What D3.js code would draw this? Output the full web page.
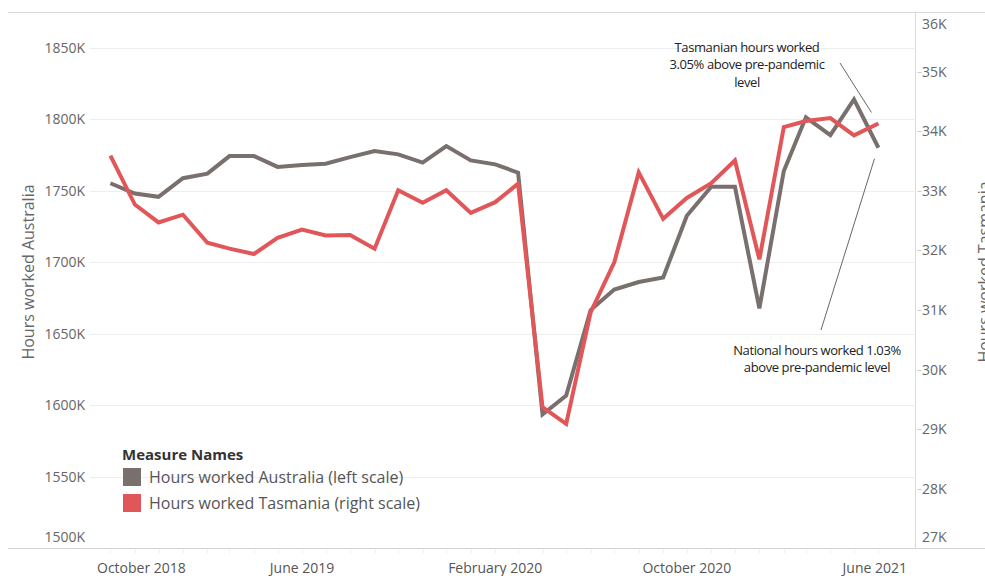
<!DOCTYPE html>
<html>
<head>
<meta charset="utf-8">
<script src="https://cdn.jsdelivr.net/npm/d3@7"></script>
<style>
body { margin: 0; background: #fff; }
text { font-family: "Open Sans", sans-serif; }
</style>
</head>
<body>
<div id="chart"></div>
<script>
// monthly series, Oct 2018 - Jun 2021
var months = ["2018-10","2018-11","2018-12",
  "2019-01","2019-02","2019-03","2019-04","2019-05","2019-06","2019-07","2019-08","2019-09","2019-10","2019-11","2019-12",
  "2020-01","2020-02","2020-03","2020-04","2020-05","2020-06","2020-07","2020-08","2020-09","2020-10","2020-11","2020-12",
  "2021-01","2021-02","2021-03","2021-04","2021-05","2021-06"];
// thousands of hours (left scale)
var australia = [1755.3, 1748.1, 1745.8, 1758.8, 1762.0, 1774.3, 1774.3, 1766.7, 1768.1, 1769.0, 1773.6,
  1777.8, 1775.5, 1769.7, 1781.3, 1771.3, 1768.5, 1762.7, 1593.7, 1606.9, 1666.7, 1681.0,
  1686.3, 1689.4, 1732.6, 1752.8, 1752.8, 1667.8, 1763.9, 1801.4, 1788.9, 1813.9, 1780.1];
// thousands of hours (right scale)
var tasmania = [33.59, 32.77, 32.47, 32.60, 32.13, 32.03, 31.94, 32.21, 32.35, 32.25, 32.26,
  32.03, 33.01, 32.80, 33.01, 32.63, 32.81, 33.12, 29.37, 29.09, 30.96, 31.80,
  33.31, 32.53, 32.88, 33.13, 33.51, 31.85, 34.07, 34.17, 34.22, 33.93, 34.13];

var leftTicks = [1500, 1550, 1600, 1650, 1700, 1750, 1800, 1850];
var rightTicks = [27, 28, 29, 30, 31, 32, 33, 34, 35, 36];
var xTickMonths = ["2018-10", "2019-06", "2020-02", "2020-10", "2021-06"];
var seriesNames = ["Hours worked Australia (left scale)", "Hours worked Tasmania (right scale)"];
var seriesColors = ["#79706e", "#e15759"];
var tasNote = ["Tasmanian hours worked", "3.05% above pre-pandemic", "level"];
var natNote = ["National hours worked 1.03%", "above pre-pandemic level"];

var width = 985, height = 576;
var top0 = 12, bottom0 = 548.5, left0 = 90, right0 = 915.5;
var parse = d3.timeParse("%Y-%m");

var svg = d3.select("#chart").append("svg").attr("width", width).attr("height", height);

var x = d3.scaleTime()
  .domain([new Date(2018, 8, 14), new Date(2021, 6, 18)])
  .range([97, right0]);
var yL = d3.scaleLinear().domain([1500, 1875]).range([bottom0, top0]);
var yR = d3.scaleLinear().domain([27, 36]).range([bottom0, top0]);

// frame lines
svg.append("line").attr("x1", 8).attr("x2", width).attr("y1", top0 + 0.5).attr("y2", top0 + 0.5)
  .attr("stroke", "#d9d9d9");
svg.append("line").attr("x1", 8).attr("x2", width).attr("y1", bottom0).attr("y2", bottom0)
  .attr("stroke", "#d4d4d4");
svg.append("line").attr("x1", right0).attr("x2", right0).attr("y1", top0).attr("y2", bottom0)
  .attr("stroke", "#d9d9d9");

// gridlines
svg.append("g").selectAll("line").data(leftTicks.filter(function(d){ return d > 1500; })).enter().append("line")
  .attr("x1", left0).attr("x2", right0)
  .attr("y1", function(d){ return Math.round(yL(d)) + 0.5; })
  .attr("y2", function(d){ return Math.round(yL(d)) + 0.5; })
  .attr("stroke", "#eeeeee");

function clampY(y) { return Math.max(top0 + 12, Math.min(bottom0 - 11, y)); }

// left axis labels
svg.append("g").selectAll("text").data(leftTicks).enter().append("text")
  .attr("x", 85).attr("y", function(d){ return clampY(yL(d)); })
  .attr("dy", "0.35em").attr("text-anchor", "end")
  .attr("font-size", 14).attr("fill", "#666")
  .text(function(d){ return d + "K"; });

// right axis ticks + labels
svg.append("g").selectAll("line").data(rightTicks.slice(1, -1)).enter().append("line")
  .attr("x1", right0 + 2).attr("x2", right0 + 6)
  .attr("y1", function(d){ return Math.round(yR(d)) + 0.5; })
  .attr("y2", function(d){ return Math.round(yR(d)) + 0.5; })
  .attr("stroke", "#ccc");
svg.append("g").selectAll("text").data(rightTicks).enter().append("text")
  .attr("x", 922).attr("y", function(d){ return clampY(yR(d)); })
  .attr("dy", "0.35em").attr("font-size", 14).attr("fill", "#666")
  .text(function(d){ return d + "K"; });

// axis titles (the right one runs off the edge, as in the original)
svg.append("text").attr("transform", "translate(34,272) rotate(-90)")
  .attr("text-anchor", "middle").attr("font-size", 16).attr("fill", "#666")
  .text("Hours worked Australia");
svg.append("text").attr("transform", "translate(990,272) rotate(-90)")
  .attr("text-anchor", "middle").attr("font-size", 16).attr("fill", "#666")
  .text("Hours worked Tasmania");

// x axis minor ticks (monthly)
svg.append("g").selectAll("line").data(months).enter().append("line")
  .attr("x1", function(d){ return Math.round(x(parse(d))) + 0.5; })
  .attr("x2", function(d){ return Math.round(x(parse(d))) + 0.5; })
  .attr("y1", bottom0 + 1).attr("y2", bottom0 + 5)
  .attr("stroke", "#f0f0f0");

// x axis labels, kept inside the pane like Tableau does
var fmt = d3.timeFormat("%B %Y");
svg.append("g").selectAll("text").data(xTickMonths).enter().append("text")
  .attr("y", 568).attr("dy", "0.35em").attr("text-anchor", "middle")
  .attr("font-size", 14).attr("fill", "#555")
  .text(function(d){ return fmt(parse(d)); })
  .attr("x", function(d){
    var w = this.getComputedTextLength();
    var cx = x(parse(d));
    return Math.max(97 + w / 2, Math.min(907 - w / 2, cx));
  });

// lines
var series = [australia, tasmania];
var scales = [yL, yR];
series.forEach(function(vals, i){
  var line = d3.line()
    .x(function(d, j){ return x(parse(months[j])); })
    .y(function(d){ return scales[i](d); });
  svg.append("path").datum(vals).attr("d", line)
    .attr("fill", "none").attr("stroke", seriesColors[i])
    .attr("stroke-width", 4).attr("stroke-linejoin", "miter");
});

// annotations
var last = months.length - 1;
var lx = x(parse(months[last]));
svg.append("line").attr("x1", 840).attr("y1", 63)
  .attr("x2", lx - 7).attr("y2", yR(tasmania[last]) - 11)
  .attr("stroke", "#666").attr("stroke-width", 1);
svg.append("line").attr("x1", 821).attr("y1", 330)
  .attr("x2", lx - 4).attr("y2", yL(australia[last]) + 11)
  .attr("stroke", "#666").attr("stroke-width", 1);

svg.append("g").selectAll("text").data(tasNote).enter().append("text")
  .attr("x", 747).attr("y", function(d, i){ return 47 + i * 17.5; })
  .attr("dy", "0.35em").attr("text-anchor", "middle")
  .attr("font-size", 13).attr("fill", "#222").attr("letter-spacing", -0.4)
  .text(function(d){ return d; });
svg.append("g").selectAll("text").data(natNote).enter().append("text")
  .attr("x", 817).attr("y", function(d, i){ return 350 + i * 17; })
  .attr("dy", "0.35em").attr("text-anchor", "middle")
  .attr("font-size", 13).attr("fill", "#222").attr("letter-spacing", -0.4)
  .text(function(d){ return d; });

// legend
var lg = svg.append("g");
lg.append("text").attr("x", 122).attr("y", 455).attr("dy", "0.35em")
  .attr("font-size", 15).attr("font-weight", "bold").attr("fill", "#333")
  .text("Measure Names");
var items = lg.selectAll("g.item").data(seriesNames).enter().append("g").attr("class", "item")
  .attr("transform", function(d, i){ return "translate(123," + (468 + i * 26) + ")"; });
items.append("rect").attr("width", 18).attr("height", 18)
  .attr("fill", function(d, i){ return seriesColors[i]; });
items.append("text").attr("x", 26).attr("y", 9).attr("dy", "0.35em")
  .attr("font-size", 16).attr("fill", "#555")
  .text(function(d){ return d; });
</script>
</body>
</html>
